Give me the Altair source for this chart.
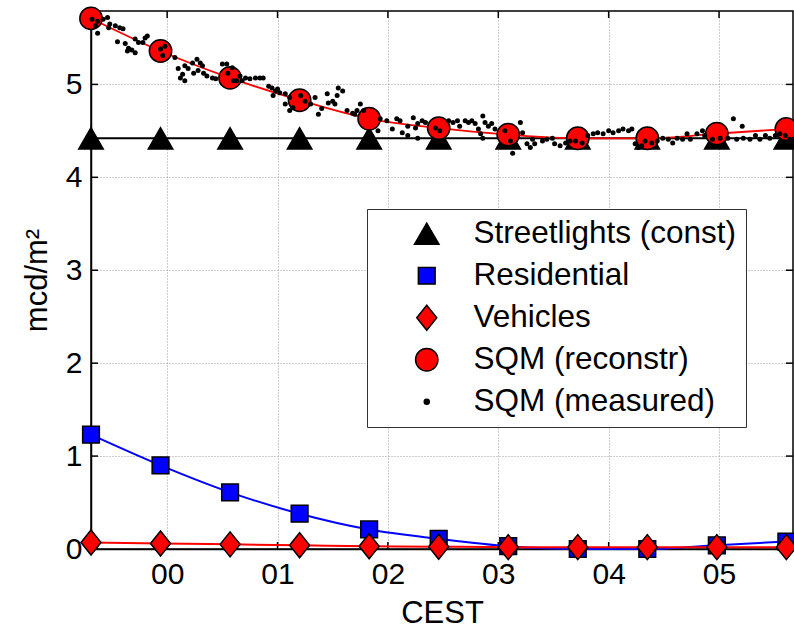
import altair as alt
import pandas as pd

# ---------------- data ----------------
marker_hours = [-0.69, -0.06, 0.57, 1.20, 1.83, 2.46, 3.09, 3.72, 4.35, 4.98, 5.61]
streetlights = [4.42, 4.42, 4.42, 4.42, 4.42, 4.42, 4.42, 4.42, 4.42, 4.42, 4.42]
residential = [1.23, 0.90, 0.61, 0.38, 0.21, 0.11, 0.03, 0.00, 0.00, 0.04, 0.08]
vehicles = [0.07, 0.06, 0.05, 0.04, 0.03, 0.025, 0.02, 0.02, 0.02, 0.02, 0.02]
sqm_reconstr = [5.71, 5.36, 5.07, 4.83, 4.63, 4.53, 4.46, 4.42, 4.42, 4.47, 4.52]

measured_hours = [
    -0.68, -0.65, -0.63, -0.63, -0.58, -0.54, -0.53, -0.52, -0.47, -0.45, -0.43, -0.40,
    -0.38, -0.36, -0.35, -0.32, -0.29, -0.29, -0.26, -0.22, -0.20, -0.18, -0.06, -0.04,
    -0.02, 0.07, 0.10, 0.12, 0.14, 0.16, 0.16, 0.19, 0.23, 0.24, 0.27, 0.28, 0.30, 0.32,
    0.33, 0.36, 0.41, 0.44, 0.50, 0.54, 0.55, 0.59, 0.60, 0.63, 0.66, 0.68, 0.71, 0.75,
    0.80, 0.84, 0.87, 0.92, 0.95, 0.96, 0.98, 1.00, 1.02, 1.07, 1.07, 1.11, 1.11, 1.14,
    1.21, 1.25, 1.30, 1.34, 1.37, 1.40, 1.45, 1.46, 1.50, 1.52, 1.54, 1.55, 1.59, 1.63,
    1.68, 1.70, 1.72, 1.75, 1.78, 1.91, 1.93, 1.99, 2.04, 2.08, 2.11, 2.13, 2.18, 2.18,
    2.23, 2.25, 2.27, 2.27, 2.31, 2.34, 2.43, 2.47, 2.55, 2.59, 2.63, 2.65, 2.70, 2.73,
    2.76, 2.79, 2.82, 2.84, 2.86, 2.86, 2.88, 2.91, 2.94, 2.97, 3.06, 3.11, 3.13, 3.20,
    3.22, 3.26, 3.29, 3.31, 3.33, 3.40, 3.44, 3.49, 3.51, 3.56, 3.61, 3.65, 3.70, 3.76,
    3.81, 3.86, 3.90, 3.95, 4.00, 4.04, 4.09, 4.13, 4.18, 4.21, 4.24, 4.27, 4.30, 4.33,
    4.39, 4.44, 4.49, 4.54, 4.58, 4.62, 4.67, 4.71, 4.74, 4.80, 4.85, 4.87, 4.94, 5.01,
    5.08, 5.13, 5.16, 5.21, 5.22, 5.28, 5.33, 5.37, 5.42, 5.46, 5.51, 5.55, 5.60, 5.64,
]
measured_mcd = [
    5.70, 5.63, 5.68, 5.55, 5.70, 5.72, 5.61, 5.65, 5.63, 5.46, 5.61, 5.60,
    5.44, 5.36, 5.39, 5.37, 5.34, 5.49, 5.45, 5.45, 5.50, 5.52, 5.38, 5.31,
    5.41, 5.29, 5.17, 5.07, 5.11, 5.04, 5.20, 5.17, 5.23, 5.12, 5.27, 5.15, 5.23, 5.20,
    5.12, 5.09, 5.07, 5.06, 5.22, 5.22, 5.12, 5.18, 5.04, 5.04, 5.09, 5.04, 5.07, 5.06,
    5.07, 5.07, 5.07, 4.98, 4.96, 4.88, 4.93, 4.95, 4.91, 4.90, 4.79, 4.86, 4.72, 4.75,
    4.88, 4.82, 4.79, 4.86, 4.68, 4.74, 4.90, 4.80, 4.82, 4.79, 4.88, 4.96, 4.93, 4.72,
    4.69, 4.68, 4.72, 4.79, 4.72, 4.50, 4.63, 4.61, 4.52, 4.63, 4.61, 4.48, 4.55, 4.45,
    4.64, 4.53, 4.58, 4.42, 4.61, 4.59, 4.53, 4.50, 4.61, 4.59, 4.61, 4.55, 4.61, 4.59,
    4.61, 4.58, 4.52, 4.47, 4.66, 4.42, 4.59, 4.55, 4.58, 4.52, 4.50, 4.39, 4.26, 4.59,
    4.48, 4.36, 4.32, 4.41, 4.36, 4.39, 4.41, 4.42, 4.36, 4.34, 4.37, 4.39, 4.39, 4.37,
    4.45, 4.47, 4.48, 4.47, 4.50, 4.48, 4.50, 4.52, 4.50, 4.52, 4.36, 4.32, 4.34, 4.39,
    4.37, 4.39, 4.42, 4.41, 4.37, 4.42, 4.41, 4.47, 4.41, 4.47, 4.50, 4.45, 4.41, 4.42,
    4.42, 4.63, 4.41, 4.55, 4.42, 4.41, 4.45, 4.41, 4.45, 4.42, 4.45, 4.47, 4.45, 4.41,
]

series_names = ["Streetlights (const)", "Residential", "Vehicles", "SQM (reconstr)", "SQM (measured)"]
series_fill = ["black", "blue", "red", "red", "black"]
series_shape = ["triangle-up", "square", "M-0.8,0L0,-1L0.8,0L0,1Z", "circle", "circle"]
series_size = [600, 280, 625, 500, 25]

x_ticks = [0, 1, 2, 3, 4, 5]
y_ticks = [0, 1, 2, 3, 4, 5]

# ---------------- tables ----------------
rows = []
for name, vals in [("Streetlights (const)", streetlights), ("Residential", residential),
                   ("Vehicles", vehicles), ("SQM (reconstr)", sqm_reconstr)]:
    for h, v in zip(marker_hours, vals):
        rows.append({"series": name, "hours": h, "value": v})
markers = pd.DataFrame(rows)
dots = pd.DataFrame({"hours": measured_hours, "value": measured_mcd, "series": "SQM (measured)"})
xt = pd.DataFrame({"t": x_ticks})
yt = pd.DataFrame({"t": y_ticks})

W, H = 702, 538
FONT = "Liberation Sans"

xscale = alt.Scale(domain=[-0.69, 5.67], nice=False, zero=False)
yscale = alt.Scale(domain=[0, 5.79], nice=False, zero=False)

X = alt.X("hours:Q", scale=xscale,
          axis=alt.Axis(values=x_ticks, labelExpr="'0' + datum.value", title="CEST",
                        grid=True, ticks=False, labelPadding=10, titlePadding=9))
Y = alt.Y("value:Q", scale=yscale,
          axis=alt.Axis(values=y_ticks, format="d", title="mcd/m²", grid=True, ticks=False,
                        labelPadding=9, titlePadding=12))

fill_enc = alt.Fill("series:N", scale=alt.Scale(domain=series_names, range=series_fill),
                    legend=alt.Legend(title=None, orient="none", legendX=276, legendY=198,
                                      padding=9, labelFontSize=31.5, labelFont=FONT,
                                      labelLimit=400, rowPadding=9, symbolOffset=35,
                                      labelOffset=31, fillColor="white", strokeColor="#333",
                                      symbolStrokeColor="black", symbolStrokeWidth=1.5,
                                      cornerRadius=0))
shape_enc = alt.Shape("series:N", scale=alt.Scale(domain=series_names, range=series_shape),
                      legend=alt.Legend(title=None))
size_enc = alt.Size("series:N",
                    scale=alt.Scale(type="ordinal", domain=series_names, range=series_size),
                    legend=alt.Legend(title=None))

base = alt.Chart(markers).encode(x=X, y=Y)

street_line = base.transform_filter(alt.datum.series == "Streetlights (const)").mark_line(
    color="black", strokeWidth=2)
res_line = base.transform_filter(alt.datum.series == "Residential").mark_line(
    color="blue", strokeWidth=2, interpolate="monotone")
veh_line = base.transform_filter(alt.datum.series == "Vehicles").mark_line(
    color="red", strokeWidth=2, interpolate="monotone")
sqm_line = base.transform_filter(alt.datum.series == "SQM (reconstr)").mark_line(
    color="red", strokeWidth=1.8, interpolate="monotone")

def pts(name):
    return base.transform_filter(alt.datum.series == name).mark_point(
        filled=True, stroke="black", strokeWidth=1.5, opacity=1).encode(
        fill=fill_enc, shape=shape_enc, size=size_enc)

dot_layer = alt.Chart(dots).mark_point(filled=True, strokeWidth=0, opacity=1).encode(
    x=X, y=Y, fill=fill_enc, shape=shape_enc, size=size_enc)

# inward ticks (MATLAB style)
tick_style = dict(color="black", strokeWidth=1.5)
yt_left = alt.Chart(yt).mark_rule(**tick_style).encode(
    y=alt.Y("t:Q", scale=yscale), x=alt.value(0), x2=alt.value(7))
yt_right = alt.Chart(yt).mark_rule(**tick_style).encode(
    y=alt.Y("t:Q", scale=yscale), x=alt.value(W - 7), x2=alt.value(W))
xt_bottom = alt.Chart(xt).mark_rule(**tick_style).encode(
    x=alt.X("t:Q", scale=xscale), y=alt.value(H - 7), y2=alt.value(H))
xt_top = alt.Chart(xt).mark_rule(**tick_style).encode(
    x=alt.X("t:Q", scale=xscale), y=alt.value(0), y2=alt.value(7))

chart = alt.layer(
    yt_left, yt_right, xt_bottom, xt_top,
    street_line, pts("Streetlights (const)"),
    res_line, pts("Residential"),
    veh_line, pts("Vehicles"),
    sqm_line, pts("SQM (reconstr)"),
    dot_layer,
).properties(
    width=W, height=H,
    autosize=alt.AutoSizeParams(type="none"),
    padding={"left": 91, "top": 11, "right": 1, "bottom": 79},
    background="white",
).configure_view(
    stroke="black", strokeWidth=1.5
).configure_axis(
    labelFont=FONT, titleFont=FONT, labelFontSize=30, titleFontSize=31,
    titleFontWeight="normal", labelColor="black", titleColor="black",
    domainColor="black", domainWidth=1.5,
    gridColor="#9a9a9a", gridDash=[1, 2], gridWidth=1,
)

chart.save("out.html", embed_options={"renderer": "svg", "actions": False})
